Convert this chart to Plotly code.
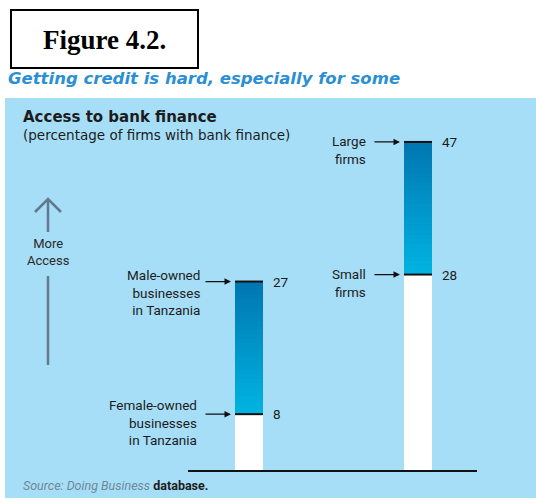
import plotly.graph_objects as go

# ---------------- data ----------------
groups = ["Gender", "Firm size"]
low_labels = ["Female-owned<br>businesses<br>in Tanzania", "Small<br>firms"]
high_labels = ["Male-owned<br>businesses<br>in Tanzania", "Large<br>firms"]
low_values = [8, 28]
high_values = [27, 47]

# ---------------- geometry helpers ----------------
W, H = 536, 500
ML, MR, MT, MB = 188, 59, 121, 30
PW, PH = W - ML - MR, H - MT - MB


def px(x):
    return (x - ML) / PW


def py(y):
    return (H - MB - y) / PH


BAR_W = 0.166
N_SEG = 30
TOP_RGB = (0, 118, 176)
BOT_RGB = (0, 180, 226)
PANEL = "#a7def7"
TXT = "#1c1c1c"
LABEL_FONT = dict(family="Roboto, Liberation Sans Narrow, sans-serif", size=13.5, color=TXT)

fig = go.Figure()
xpos = list(range(len(groups)))

# white lower part of each bar
fig.add_trace(go.Bar(x=xpos, y=low_values, base=[0] * len(xpos), width=BAR_W,
                     marker=dict(color="white", line=dict(width=0)),
                     showlegend=False, hoverinfo="skip"))

# gradient upper part (stacked thin slices from low to high)
for i in range(N_SEG):
    t = (i + 0.5) / N_SEG
    r = round(BOT_RGB[0] + (TOP_RGB[0] - BOT_RGB[0]) * t)
    g = round(BOT_RGB[1] + (TOP_RGB[1] - BOT_RGB[1]) * t)
    b = round(BOT_RGB[2] + (TOP_RGB[2] - BOT_RGB[2]) * t)
    bases = [lo + (hi - lo) * i / N_SEG for lo, hi in zip(low_values, high_values)]
    heights = [(hi - lo) / N_SEG * 1.02 for lo, hi in zip(low_values, high_values)]
    fig.add_trace(go.Bar(x=xpos, y=heights, base=bases, width=BAR_W,
                         marker=dict(color=f"rgb({r},{g},{b})", line=dict(width=0)),
                         showlegend=False, hoverinfo="skip"))

# black tick lines at each value across bar width
for k, x in enumerate(xpos):
    for v in (low_values[k], high_values[k]):
        fig.add_trace(go.Scatter(x=[x - BAR_W / 2, x + BAR_W / 2], y=[v, v], mode="lines",
                                 line=dict(color="#111111", width=2),
                                 showlegend=False, hoverinfo="skip"))

annotations = []
shapes = []

# labels, arrows and values
for k, x in enumerate(xpos):
    left = x - BAR_W / 2
    right = x + BAR_W / 2
    gap = 33 if k == 0 else 36
    for lab, v, extra, ys in ((low_labels[k], low_values[k], 3 if k == 0 else 0,
                               19 if k == 0 else 11),
                              (high_labels[k], high_values[k], 0, 16.5 if k == 0 else 11)):
        annotations.append(dict(x=left - (gap + extra) / 169, y=v, xref="x", yref="y",
                                text=lab, showarrow=False, xanchor="right", yanchor="top",
                                yshift=ys, align="right", font=LABEL_FONT))
        annotations.append(dict(x=left - 4 / 169, y=v, xref="x", yref="y", text="",
                                showarrow=True, ax=-27, ay=0, arrowhead=2, arrowsize=1,
                                arrowwidth=1.3, arrowcolor="#111111", standoff=0))
        annotations.append(dict(x=right + 8 / 169, y=v, xref="x", yref="y", text=str(v),
                                showarrow=False, xanchor="left", yanchor="middle",
                                font=LABEL_FONT))

# background panel
shapes.append(dict(type="rect", xref="paper", yref="paper", x0=px(5), x1=px(545),
                   y0=py(498), y1=py(98), fillcolor=PANEL, line=dict(width=0), layer="below"))
# figure box
shapes.append(dict(type="rect", xref="paper", yref="paper", x0=px(11), x1=px(198),
                   y0=py(68), y1=py(10), fillcolor="white", line=dict(color="black", width=2),
                   layer="below"))
# "more access" arrow
GREY = "#62798a"
shapes.append(dict(type="line", xref="paper", yref="paper", x0=px(48), x1=px(48),
                   y0=py(232), y1=py(200), line=dict(color=GREY, width=2.5)))
shapes.append(dict(type="path", xref="paper", yref="paper",
                   path=f"M {px(35)},{py(212)} L {px(48)},{py(199)} L {px(61)},{py(212)}",
                   line=dict(color=GREY, width=2.5)))
shapes.append(dict(type="line", xref="paper", yref="paper", x0=px(48), x1=px(48),
                   y0=py(365), y1=py(276), line=dict(color=GREY, width=2.5)))

annotations += [
    dict(x=px(104), y=py(40), xref="paper", yref="paper", text="<b>Figure 4.2.</b>",
         showarrow=False, xanchor="center", yanchor="middle",
         font=dict(family="Liberation Serif, Times New Roman, serif", size=27, color="black")),
    dict(x=px(6), y=py(78), xref="paper", yref="paper",
         text="<b>Getting credit is hard, especially for some</b>", showarrow=False,
         xanchor="left", yanchor="middle",
         font=dict(family="DejaVu Sans, sans-serif", size=16.5, color="#2b8fd4",
                   style="italic")),
    dict(x=px(21), y=py(117), xref="paper", yref="paper", text="<b>Access to bank finance</b>",
         showarrow=False, xanchor="left", yanchor="middle",
         font=dict(family="DejaVu Sans, sans-serif", size=15, color=TXT)),
    dict(x=px(21), y=py(135), xref="paper", yref="paper",
         text="(percentage of firms with bank finance)", showarrow=False,
         xanchor="left", yanchor="middle",
         font=dict(family="DejaVu Sans, sans-serif", size=13.5, color=TXT)),
    dict(x=px(48), y=py(252), xref="paper", yref="paper", text="More<br>Access",
         showarrow=False, xanchor="center", yanchor="middle",
         font=dict(family="Roboto, sans-serif", size=13, color="#2a2a2a")),
    dict(x=px(21), y=py(486), xref="paper", yref="paper",
         text='<span style="color:#6f8898"><i>Source: Doing Business</i></span> <b>database.</b>',
         showarrow=False, xanchor="left", yanchor="middle",
         font=dict(family="Roboto, sans-serif", size=12.5, color="#1c1c1c")),
]

fig.update_layout(
    width=W, height=H, autosize=False,
    margin=dict(l=ML, r=MR, t=MT, b=MB, pad=0),
    paper_bgcolor="white", plot_bgcolor="rgba(0,0,0,0)",
    barmode="overlay", bargap=0,
    showlegend=False,
    xaxis=dict(range=[-61 / 169, 228 / 169], showgrid=False, zeroline=False,
               showticklabels=False, ticks="", showline=True, linecolor="#111111",
               linewidth=2, mirror=False, fixedrange=True),
    yaxis=dict(range=[0, 50], showgrid=False, zeroline=False, showticklabels=False,
               ticks="", showline=False, fixedrange=True),
    shapes=shapes, annotations=annotations,
)

fig.write_html("out.html", config={"displayModeBar": False},
               post_script="document.body.style.margin='0';")
